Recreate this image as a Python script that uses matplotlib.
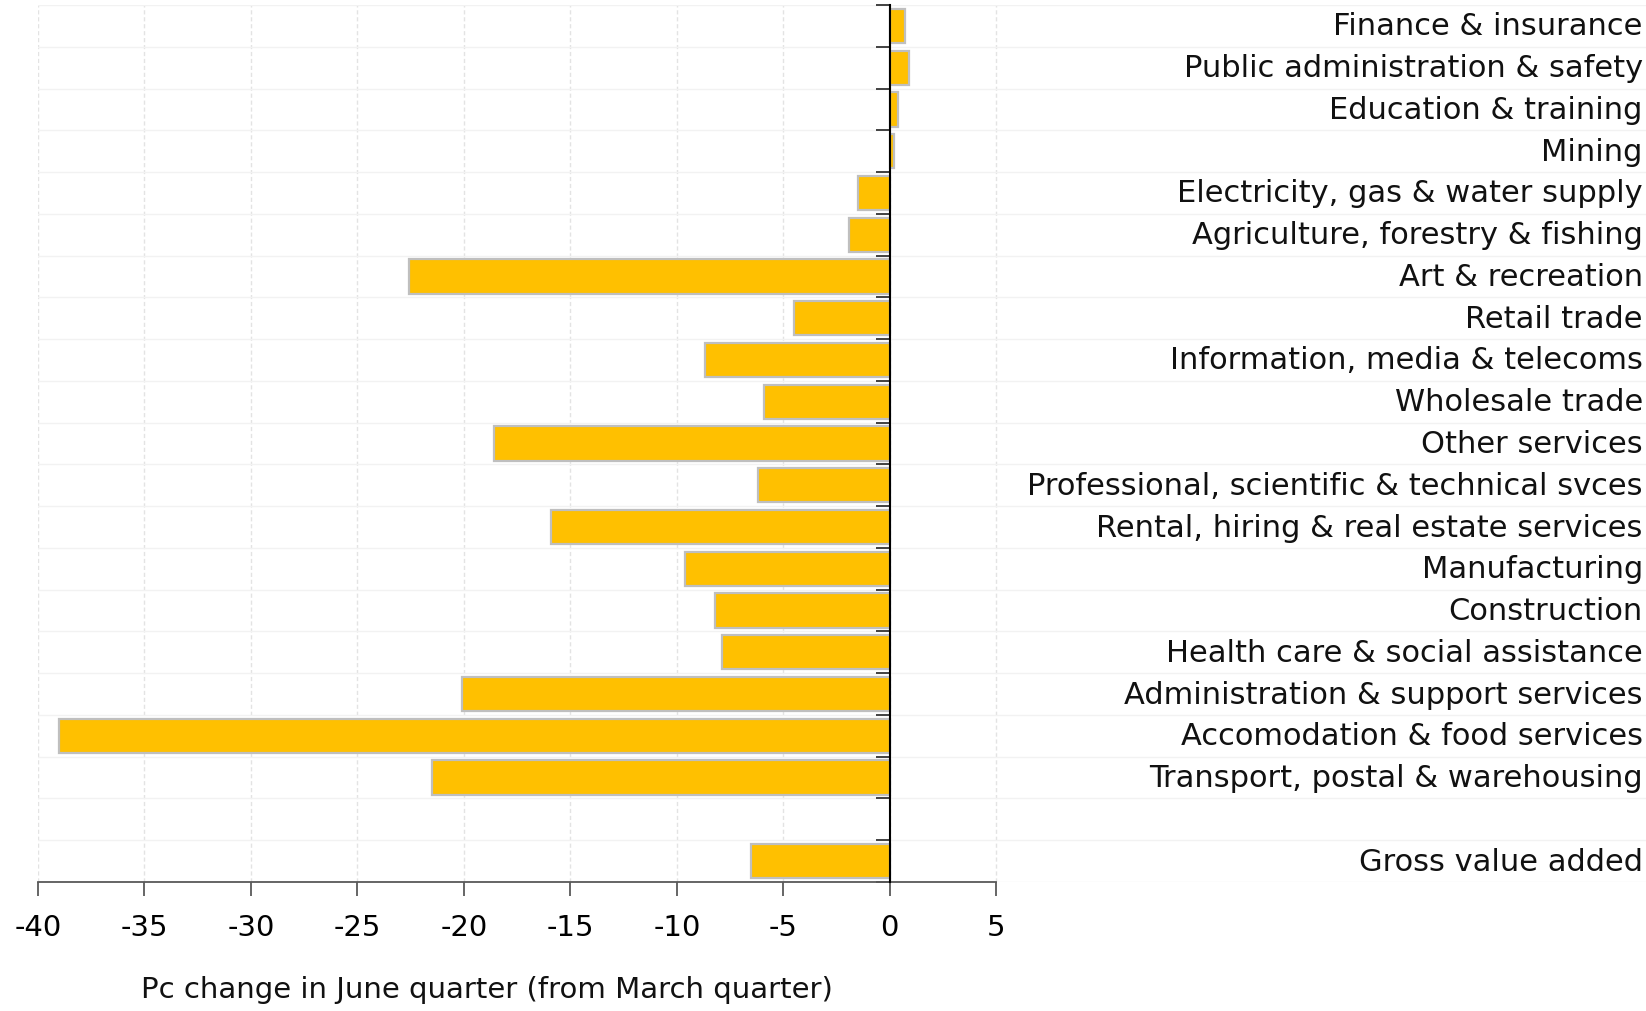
import matplotlib.pyplot as plt
import matplotlib.transforms as mtransforms

plt.rcParams["font.family"] = ["DejaVu Sans"]

industries = [
    "Finance & insurance",
    "Public administration & safety",
    "Education & training",
    "Mining",
    "Electricity, gas & water supply",
    "Agriculture, forestry & fishing",
    "Art & recreation",
    "Retail trade",
    "Information, media & telecoms",
    "Wholesale trade",
    "Other services",
    "Professional, scientific & technical svces",
    "Rental, hiring & real estate services",
    "Manufacturing",
    "Construction",
    "Health care & social assistance",
    "Administration & support services",
    "Accomodation & food services",
    "Transport, postal & warehousing",
]
industry_change = [0.7, 0.9, 0.4, 0.2, -1.5, -1.9, -22.6, -4.5, -8.7, -5.9,
                   -18.6, -6.2, -15.9, -9.6, -8.2, -7.9, -20.1, -39.0, -21.5]

total_label = "Gross value added"
total_change = -6.5

xticks = [-40, -35, -30, -25, -20, -15, -10, -5, 0, 5]

# one empty row between the industries and the total
labels = industries + [""] + [total_label]
values = industry_change + [None] + [total_change]
n = len(labels)

fig = plt.figure(figsize=(16.46, 10.12), dpi=100)
ax = fig.add_axes([38 / 1646, 1 - 883 / 1012, 1 - 38 / 1646, 877 / 1012])

rows = [i for i, v in enumerate(values) if v is not None]
ax.barh(rows, [values[i] for i in rows], height=0.82, color="#FFC000",
        edgecolor="#BFBFBF", linewidth=1.6, zorder=3)

ax.set_ylim(n - 0.5, -0.5)
ax.set_xlim(-40, (1646 - 890) / ((890 - 38.5) / 40))

ax.set_xticks(xticks)
ax.set_xticklabels([str(t) for t in xticks], fontsize=21)
ax.set_yticks([i - 0.5 for i in range(n + 1)])
ax.set_yticklabels([])

for s in ["top", "right"]:
    ax.spines[s].set_visible(False)
ax.spines["left"].set_position(("data", 0))
ax.spines["left"].set_color("black")
ax.spines["left"].set_linewidth(1.5)
ax.spines["left"].set_zorder(4)
ax.spines["bottom"].set_bounds(-40, 5)
ax.spines["bottom"].set_color("#595959")
ax.spines["bottom"].set_linewidth(1.3)

ax.tick_params(axis="x", length=10, width=1.3, color="#595959", pad=12)
ax.tick_params(axis="y", length=10, width=1.3, color="#333333")

ax.grid(axis="x", color="#E3E3E3", linestyle=(0, (3, 2)), linewidth=1, zorder=0)
ax.grid(axis="y", color="#F2F2F2", linestyle="-", linewidth=1, zorder=0)

trans = mtransforms.blended_transform_factory(ax.transAxes, ax.transData)
for i, lab in enumerate(labels):
    ax.text(0.998, i, lab, transform=trans, ha="right", va="center",
            fontsize=22, color="#111111")

fig.text(487 / 1646, 1 - 990 / 1012, "Pc change in June quarter (from March quarter)",
         ha="center", va="center", fontsize=21, color="#111111")

fig.savefig("out.png", dpi=100)
